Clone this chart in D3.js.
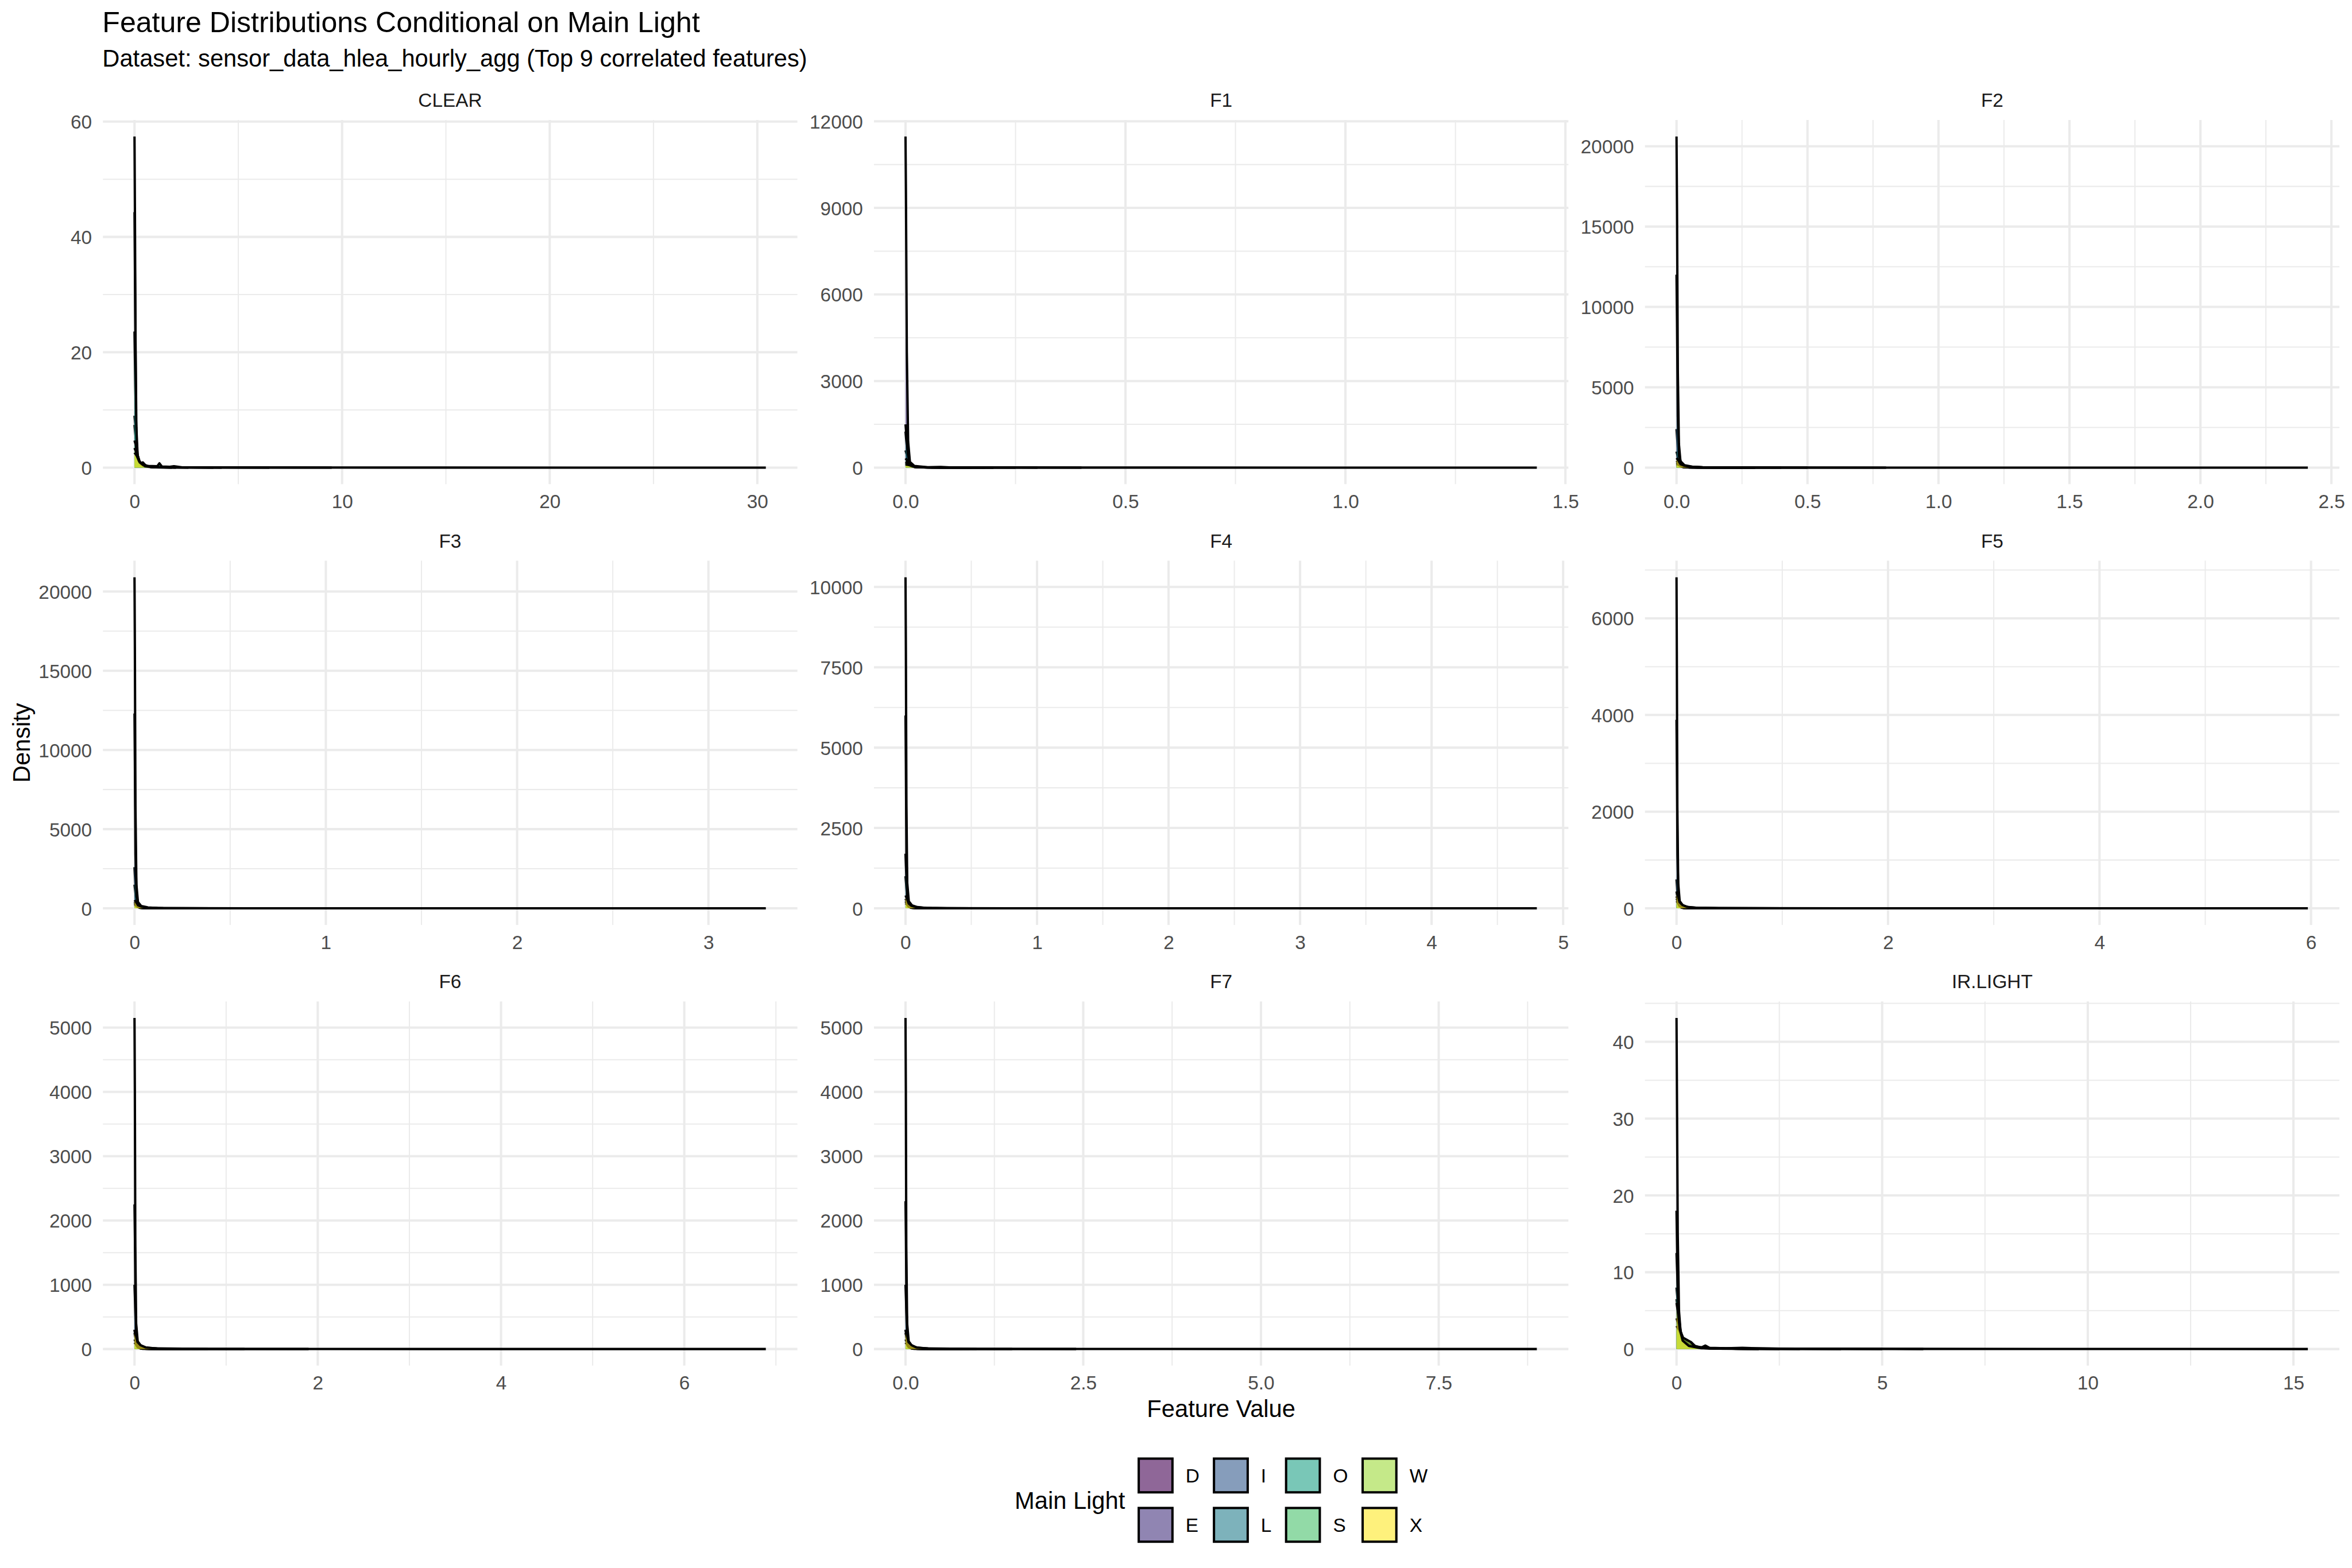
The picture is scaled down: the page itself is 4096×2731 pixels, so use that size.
<!DOCTYPE html>
<html><head><meta charset="utf-8">
<script src="https://cdn.jsdelivr.net/npm/d3@7"></script>
<style>html,body{margin:0;padding:0;background:#fff;}svg{display:block;}</style>
</head><body>
<svg id="chart" width="4096" height="2731"></svg>
<script>
// ---------------- DATA ----------------
const panelNames = ["CLEAR","F1","F2","F3","F4","F5","F6","F7","IR.LIGHT"];
const groupNames = ["D","E","I","L","O","S","W","X"];
const groupColors = ["#440154","#46337E","#365C8D","#277F8E","#1FA187","#4AC16D","#9FDA3A","#FDE725"];

const xTickLabels = [
  ["0","10","20","30"],
  ["0.0","0.5","1.0","1.5"],
  ["0.0","0.5","1.0","1.5","2.0","2.5"],
  ["0","1","2","3"],
  ["0","1","2","3","4","5"],
  ["0","2","4","6"],
  ["0","2","4","6"],
  ["0.0","2.5","5.0","7.5"],
  ["0","5","10","15"]
];
const yTickLabels = [
  ["0","20","40","60"],
  ["0","3000","6000","9000","12000"],
  ["0","5000","10000","15000","20000"],
  ["0","5000","10000","15000","20000"],
  ["0","2500","5000","7500","10000"],
  ["0","2000","4000","6000"],
  ["0","1000","2000","3000","4000","5000"],
  ["0","1000","2000","3000","4000","5000"],
  ["0","10","20","30","40"]
];

// density curves [x, density] per group D,E,I,L,O,S,W,X
const densCLEAR = [
  [[0,9.0],[0.04,7.5],[0.1,3.2],[0.2,1.1],[0.4,0.5],[0.8,0.15],[1.5,0.05],[4.2,0]],
  [[0,44.3],[0.03,30],[0.07,9],[0.12,2.5],[0.25,0.8],[0.5,0.2],[1.0,0.05],[6.5,0]],
  [[0,7.4],[0.05,5.5],[0.12,2.2],[0.25,0.7],[0.4,0.9],[0.55,0.3],[1.2,0.08],[3.8,0]],
  [[0,23.6],[0.04,14],[0.09,5],[0.16,1.6],[0.3,0.5],[0.7,0.15],[1.5,0.04],[9.5,0]],
  [[0,57.4],[0.02,45],[0.05,22],[0.09,7],[0.15,2.2],[0.25,1.0],[0.4,0.7],[0.6,0.3],[1.1,0.25],[1.2,0.75],[1.32,0.2],[1.7,0.15],[1.9,0.25],[2.3,0.05],[5,0.02],[12,0.01],[30.41,0]],
  [[0,4.7],[0.06,4],[0.15,1.8],[0.3,0.6],[0.6,0.2],[1.0,0.05],[2.6,0]],
  [[0,3.4],[0.08,2.7],[0.2,1.2],[0.4,0.4],[0.8,0.1],[2.0,0]],
  [[0,2.6],[0.1,2.1],[0.25,0.9],[0.5,0.25],[1.0,0.06],[1.8,0]]
];
const densF1 = [
  [[0,1250],[0.002,900],[0.005,350],[0.01,80],[0.02,20],[0.05,5],[0.3,0]],
  [[0,11470],[0.001,9500],[0.003,4000],[0.006,900],[0.01,200],[0.02,60],[0.05,15],[0.08,25],[0.1,8],[0.3,2],[1.435,0]],
  [[0,600],[0.003,450],[0.008,160],[0.015,40],[0.04,8],[0.2,0]],
  [[0,1500],[0.002,1150],[0.005,500],[0.01,120],[0.02,30],[0.06,6],[0.4,0]],
  [[0,320],[0.004,250],[0.01,90],[0.02,25],[0.05,5],[0.25,0]],
  [[0,200],[0.005,160],[0.012,60],[0.025,15],[0.06,3],[0.2,0]],
  [[0,150],[0.006,120],[0.015,45],[0.03,10],[0.08,2],[0.18,0]],
  [[0,110],[0.008,90],[0.02,35],[0.04,8],[0.1,1],[0.15,0]]
];
const densF2 = [
  [[0,2400],[0.003,1700],[0.008,600],[0.015,150],[0.03,40],[0.08,8],[0.4,0]],
  [[0,20600],[0.002,16000],[0.005,6000],[0.009,1500],[0.015,400],[0.03,150],[0.06,60],[0.1,25],[0.2,8],[0.5,2],[2.41,0]],
  [[0,1000],[0.004,750],[0.01,280],[0.02,70],[0.05,12],[0.3,0]],
  [[0,12000],[0.002,9000],[0.005,3200],[0.01,700],[0.02,180],[0.05,40],[0.12,8],[0.8,0]],
  [[0,420],[0.005,330],[0.012,120],[0.025,30],[0.06,5],[0.3,0]],
  [[0,300],[0.006,240],[0.015,90],[0.03,20],[0.08,3],[0.25,0]],
  [[0,220],[0.008,180],[0.02,70],[0.04,15],[0.1,2],[0.3,0]],
  [[0,600],[0.006,480],[0.015,220],[0.03,120],[0.05,60],[0.1,15],[0.2,2],[0.5,0]]
];
const densF3 = [
  [[0,2600],[0.003,1900],[0.008,700],[0.016,170],[0.035,40],[0.1,8],[0.5,0]],
  [[0,20900],[0.002,16500],[0.005,6500],[0.01,1500],[0.018,400],[0.035,150],[0.07,60],[0.12,20],[0.25,6],[0.6,2],[3.30,0]],
  [[0,1500],[0.004,1100],[0.01,400],[0.02,100],[0.05,15],[0.4,0]],
  [[0,12300],[0.002,9300],[0.005,3400],[0.011,750],[0.022,180],[0.05,40],[0.15,8],[1.0,0]],
  [[0,400],[0.005,320],[0.013,120],[0.028,30],[0.07,5],[0.35,0]],
  [[0,300],[0.006,240],[0.016,90],[0.035,20],[0.09,3],[0.3,0]],
  [[0,220],[0.008,180],[0.02,70],[0.045,15],[0.12,2],[0.35,0]],
  [[0,520],[0.007,420],[0.018,200],[0.035,110],[0.06,50],[0.12,12],[0.25,2],[0.6,0]]
];
const densF4 = [
  [[0,1700],[0.004,1250],[0.01,450],[0.02,110],[0.045,25],[0.12,5],[0.6,0]],
  [[0,10300],[0.003,8000],[0.007,3200],[0.013,800],[0.025,220],[0.05,90],[0.09,40],[0.15,15],[0.3,5],[0.8,1],[4.80,0]],
  [[0,1000],[0.005,750],[0.013,270],[0.027,70],[0.07,10],[0.5,0]],
  [[0,6000],[0.003,4500],[0.007,1700],[0.014,380],[0.03,90],[0.07,20],[0.2,4],[1.3,0]],
  [[0,300],[0.007,240],[0.018,90],[0.037,22],[0.09,4],[0.45,0]],
  [[0,220],[0.008,175],[0.02,65],[0.045,15],[0.12,2],[0.4,0]],
  [[0,160],[0.01,130],[0.025,50],[0.055,11],[0.15,2],[0.45,0]],
  [[0,400],[0.009,320],[0.024,150],[0.045,80],[0.08,35],[0.16,9],[0.32,1],[0.8,0]]
];
const densF5 = [
  [[0,600],[0.005,450],[0.012,160],[0.025,40],[0.06,8],[0.7,0]],
  [[0,6850],[0.003,5300],[0.008,2100],[0.016,520],[0.03,150],[0.06,60],[0.11,25],[0.2,10],[0.4,3],[1.0,1],[5.97,0]],
  [[0,350],[0.006,270],[0.016,100],[0.033,25],[0.08,4],[0.6,0]],
  [[0,3900],[0.004,2950],[0.009,1100],[0.018,250],[0.036,60],[0.09,12],[0.25,3],[1.6,0]],
  [[0,250],[0.008,200],[0.02,75],[0.045,18],[0.11,3],[0.55,0]],
  [[0,200],[0.01,160],[0.025,60],[0.055,14],[0.14,2],[0.5,0]],
  [[0,150],[0.012,120],[0.03,45],[0.065,10],[0.18,1],[0.55,0]],
  [[0,350],[0.011,280],[0.028,130],[0.055,70],[0.1,30],[0.2,8],[0.4,1],[1.0,0]]
];
const densF6 = [
  [[0,1000],[0.006,750],[0.014,270],[0.03,65],[0.07,12],[0.8,0]],
  [[0,5150],[0.004,4000],[0.009,1600],[0.018,400],[0.035,120],[0.07,50],[0.13,20],[0.25,8],[0.5,2],[1.2,0.5],[6.89,0]],
  [[0,300],[0.007,230],[0.018,85],[0.038,21],[0.09,3],[0.7,0]],
  [[0,2250],[0.005,1700],[0.011,640],[0.022,150],[0.045,35],[0.11,7],[0.3,2],[1.9,0]],
  [[0,250],[0.009,200],[0.023,75],[0.05,18],[0.13,3],[0.6,0]],
  [[0,150],[0.011,120],[0.028,45],[0.06,11],[0.16,2],[0.55,0]],
  [[0,100],[0.013,80],[0.034,30],[0.075,7],[0.2,1],[0.6,0]],
  [[0,300],[0.013,240],[0.032,110],[0.065,60],[0.12,26],[0.24,7],[0.48,1],[1.2,0]]
];
const densF7 = [
  [[0,1000],[0.008,750],[0.018,270],[0.038,65],[0.09,12],[1.0,0]],
  [[0,5150],[0.005,4000],[0.011,1600],[0.023,400],[0.045,120],[0.09,50],[0.17,20],[0.32,8],[0.65,2],[1.5,0.5],[8.88,0]],
  [[0,300],[0.009,230],[0.023,85],[0.049,21],[0.12,3],[0.9,0]],
  [[0,2300],[0.006,1750],[0.014,650],[0.028,150],[0.058,35],[0.14,7],[0.4,2],[2.4,0]],
  [[0,250],[0.012,200],[0.03,75],[0.065,18],[0.17,3],[0.8,0]],
  [[0,150],[0.014,120],[0.036,45],[0.078,11],[0.2,2],[0.7,0]],
  [[0,100],[0.017,80],[0.044,30],[0.1,7],[0.26,1],[0.8,0]],
  [[0,300],[0.017,240],[0.041,110],[0.085,60],[0.15,26],[0.31,7],[0.62,1],[1.5,0]]
];
const densIRLIGHT = [
  [[0,8],[0.03,6.2],[0.08,2.8],[0.15,1.2],[0.3,0.5],[0.6,0.15],[1.5,0.03],[4,0]],
  [[0,43.1],[0.01,34],[0.03,15],[0.06,5],[0.1,2.2],[0.15,1.4],[0.25,1.1],[0.35,0.9],[0.45,0.4],[0.6,0.2],[0.7,0.45],[0.8,0.15],[1.2,0.1],[1.6,0.15],[2.5,0.05],[6,0.02],[15.35,0]],
  [[0,6.5],[0.04,5],[0.1,2.3],[0.2,0.9],[0.4,0.35],[0.8,0.1],[3,0]],
  [[0,18],[0.015,13],[0.04,5.5],[0.08,2],[0.15,0.8],[0.35,0.3],[0.8,0.08],[6,0]],
  [[0,12.5],[0.02,9.5],[0.05,4.2],[0.1,1.6],[0.2,0.7],[0.4,0.25],[1.0,0.05],[5,0]],
  [[0,4],[0.05,3.2],[0.12,1.6],[0.25,0.7],[0.5,0.2],[1.0,0.05],[2.5,0]],
  [[0,3],[0.06,2.5],[0.15,1.5],[0.25,1.2],[0.35,0.9],[0.45,0.3],[0.7,0.1],[2,0]],
  [[0,6],[0.03,5],[0.08,2.6],[0.15,1.1],[0.3,0.4],[0.6,0.1],[2,0]]
];
const densities = [densCLEAR, densF1, densF2, densF3, densF4, densF5, densF6, densF7, densIRLIGHT];

const titleText = "Feature Distributions Conditional on Main Light";
const subtitleText = "Dataset: sensor_data_hlea_hourly_agg (Top 9 correlated features)";
const xTitle = "Feature Value";
const yTitle = "Density";
const legendTitle = "Main Light";

// ---------------- LAYOUT (reference px, scaled by 0.91) ----------------
const S = 0.91;
const FONT = '"Liberation Sans", Arial, Helvetica, sans-serif';
const colLeft = [197, 1672.5, 3148];
const rowTop = [229.7, 1073.2, 1916.7];
const PW = 1329, PH = 697;
const LW = 4.45, LWminor = 2.22;
const GRID = "#EBEBEB";
const AXIS_TXT = 36.7, TITLE_TXT = 55, BASE_TXT = 45.8;

const svg = d3.select("#chart");
svg.append("rect").attr("width", 4096).attr("height", 2731).attr("fill", "#fff");
const root = svg.append("g").attr("transform", `scale(${S})`).attr("font-family", FONT);

// titles
root.append("text").attr("x", 196).attr("y", 62).attr("font-size", TITLE_TXT).attr("fill", "#000").text(titleText);
root.append("text").attr("x", 196).attr("y", 128).attr("font-size", BASE_TXT).attr("fill", "#000").text(subtitleText);

function minorBreaks(t, dom) {
  const s = t[1] - t[0], out = [];
  for (let i = -1; i < t.length; i++) {
    const v = t[0] + (i + 0.5) * s;
    if (v >= dom[0] && v <= dom[1]) out.push(v);
  }
  return out;
}

panelNames.forEach((name, p) => {
  const c = p % 3, r = Math.floor(p / 3);
  const left = colLeft[c], top = rowTop[r], right = left + PW, bottom = top + PH;
  const dens = densities[p];
  const W = d3.max(dens, g => d3.max(g, d => d[0]));
  const M = d3.max(dens, g => d3.max(g, d => d[1]));
  const x = d3.scaleLinear().domain([-0.05 * W, 1.05 * W]).range([left, right]);
  const y = d3.scaleLinear().domain([-0.05 * M, 1.05 * M]).range([bottom, top]);
  const xt = xTickLabels[p].map(Number);
  const yt = yTickLabels[p].map(Number);
  const g = root.append("g");

  // minor grid
  g.selectAll(null).data(minorBreaks(yt, y.domain())).join("line")
    .attr("x1", left).attr("x2", right).attr("y1", d => y(d)).attr("y2", d => y(d))
    .attr("stroke", GRID).attr("stroke-width", LWminor);
  g.selectAll(null).data(minorBreaks(xt, x.domain())).join("line")
    .attr("y1", top).attr("y2", bottom).attr("x1", d => x(d)).attr("x2", d => x(d))
    .attr("stroke", GRID).attr("stroke-width", LWminor);
  // major grid
  g.selectAll(null).data(yt).join("line")
    .attr("x1", left).attr("x2", right).attr("y1", d => y(d)).attr("y2", d => y(d))
    .attr("stroke", GRID).attr("stroke-width", LW);
  g.selectAll(null).data(xt).join("line")
    .attr("y1", top).attr("y2", bottom).attr("x1", d => x(d)).attr("x2", d => x(d))
    .attr("stroke", GRID).attr("stroke-width", LW);

  // densities
  const area = d3.area().x(d => x(d[0])).y0(y(0)).y1(d => y(d[1]));
  const line = d3.line().x(d => x(d[0])).y(d => y(d[1]));
  dens.forEach((pts, gi) => {
    g.append("path").attr("d", area(pts)).attr("fill", groupColors[gi]).attr("fill-opacity", 0.6).attr("stroke", "none");
    g.append("path").attr("d", line(pts)).attr("fill", "none").attr("stroke", "#000")
      .attr("stroke-width", LW).attr("stroke-linejoin", "round").attr("stroke-linecap", "butt");
  });

  // axes
  const ya = g.append("g").attr("transform", `translate(${left},0)`)
    .call(d3.axisLeft(y).tickValues(yt).tickFormat((d, i) => yTickLabels[p][i]).tickSize(0).tickPadding(21));
  ya.select(".domain").remove();
  ya.attr("font-size", AXIS_TXT).attr("font-family", FONT).style("color", "#4D4D4D");
  ya.selectAll("text").attr("dy", "0.36em");

  const xa = g.append("g").attr("transform", `translate(0,${bottom})`)
    .call(d3.axisBottom(x).tickValues(xt).tickFormat((d, i) => xTickLabels[p][i]).tickSize(0).tickPadding(20));
  xa.select(".domain").remove();
  xa.attr("font-size", AXIS_TXT).attr("font-family", FONT).style("color", "#4D4D4D");

  // strip
  g.append("text").attr("x", (left + right) / 2).attr("y", top - 25)
    .attr("text-anchor", "middle").attr("font-size", AXIS_TXT).attr("fill", "#1A1A1A").text(name);
});

// axis titles
root.append("text").attr("x", (colLeft[0] + colLeft[2] + PW) / 2).attr("y", 2712)
  .attr("text-anchor", "middle").attr("font-size", BASE_TXT).attr("fill", "#000").text(xTitle);
root.append("text").attr("transform", `translate(57,${(rowTop[0] + rowTop[2] + PH) / 2}) rotate(-90)`)
  .attr("text-anchor", "middle").attr("font-size", BASE_TXT).attr("fill", "#000").text(yTitle);

// legend
const keyLeft = [2177, 2321, 2459, 2605.5];
const keyTop = [2789.5, 2884];
const KEY = 69;
const leg = root.append("g");
leg.append("text").attr("x", 2153).attr("y", 2888).attr("text-anchor", "end")
  .attr("font-size", BASE_TXT).attr("fill", "#000").text(legendTitle);
groupNames.forEach((gname, i) => {
  const col = Math.floor(i / 2), row = i % 2;
  const kx = keyLeft[col], ky = keyTop[row];
  leg.append("rect").attr("x", kx + LW / 2).attr("y", ky + LW / 2)
    .attr("width", KEY - LW).attr("height", KEY - LW)
    .attr("fill", groupColors[i]).attr("fill-opacity", 0.6)
    .attr("stroke", "#000").attr("stroke-width", LW);
  leg.append("text").attr("x", kx + KEY + 23).attr("y", ky + KEY / 2 + 13.5)
    .attr("font-size", AXIS_TXT).attr("fill", "#000").text(gname);
});
</script>
</body></html>
